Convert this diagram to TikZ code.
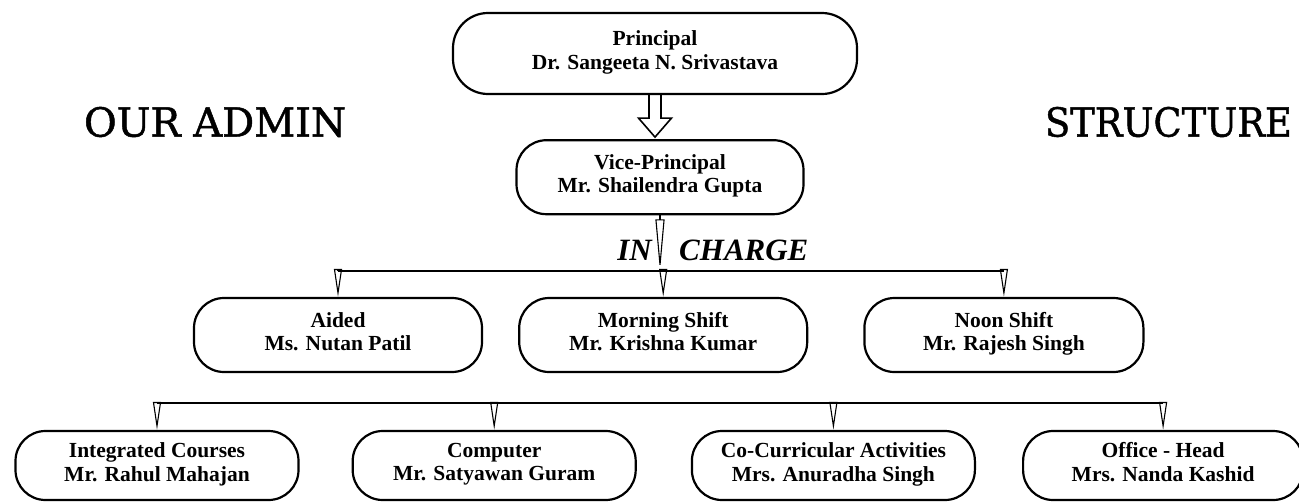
\documentclass[tikz,border=0pt]{standalone}
\usepackage{fontspec}
\setmainfont{Liberation Serif}
\newfontfamily\slabfont[FakeBold=1.2]{DejaVu Serif}
\usepackage{tikz}
\usetikzlibrary{arrows.meta,positioning,calc}
\tikzset{
    %Define style for boxes
    post/.style={
           rectangle,
           rounded corners=30pt,
           draw=black, line width=2.2pt,
           minimum width=288pt,
           minimum height=74pt,
           inner sep=0pt,
           align=center,
           execute at begin node={\rule{0pt}{23pt}},
           execute at end node=\strut,
           font=\fontsize{21.5}{23.5}\selectfont\bfseries},
    low/.style={
           post,
           minimum width=283pt,
           minimum height=69pt},
    %Define style for big titles
    hdr/.style={
           inner sep=0pt,
           font=\slabfont\fontsize{40}{40}\selectfont},
    lbl/.style={
           inner sep=0pt,
           font=\fontsize{31}{31}\selectfont\bfseries\itshape},
    % Define arrow styles
    bus/.style={
           line width=2.2pt},
    drop/.style={
           -{Triangle[open,length=28pt,width=8pt]},
           line width=1.1pt},
    feed/.style={
           -{Triangle[open,length=52pt,width=9pt]},
           line width=1.1pt}
}

\begin{document}
\begin{tikzpicture}[x=1pt,y=1pt,blk/.style={line width=1.6pt,line join=miter}]
\useasboundingbox (0,0) rectangle (1299,-501);
% top of the chart
\node[post, minimum width=404pt, minimum height=81pt, rounded corners=35pt] (prin) at (655,-53.5) {Principal\\Dr. Sangeeta N. Srivastava};
\node[post, below=44pt of prin, minimum width=287pt, xshift=5pt] (vice) {Vice-Principal\\Mr. Shailendra Gupta};
\node[hdr] (our) at (215,-122) {OUR ADMIN};
\node[hdr, anchor=east] (strc) at (1292,-122) {\scalebox{0.92}[1]{STRUCTURE}};
% in charge row
\node[post] (aided) at (338,-335) {Aided\\Ms. Nutan Patil};
\node[post, right=35pt of aided] (morn) {Morning Shift\\Mr. Krishna Kumar};
\node[post, right=55pt of morn, minimum width=279pt] (noon) {Noon Shift\\Mr. Rajesh Singh};
% bottom row
\node[low] (integ) at (157,-465.5) {Integrated Courses\\Mr. Rahul Mahajan};
\node[low, right=52pt of integ] (comp) {Computer\\Mr. Satyawan Guram};
\node[low, right=54pt of comp] (cca) {Co-Curricular Activities\\Mrs. Anuradha Singh};
\node[low, right=46pt of cca, minimum width=280pt] (office) {Office - Head\\Mrs. Nanda Kashid};
% hollow arrow
\draw[blk] ($(prin.south)+(-6pt,0)$) -- ++(0,-23) -- ++(-10.5,0) -- ++(16.5,-19) -- ++(16.5,19) -- ++(-10.5,0) -- ++(0,23);
% lines
\coordinate (b1) at ($(vice.south)+(0,-56pt)$);
\coordinate (b2) at ($(morn.south)+(0,-30pt)$);
\node[lbl, anchor=east] (in) at ($(b1)+(-8pt,21pt)$) {IN};
\node[lbl, anchor=west] (chg) at ($(b1)+(19pt,21pt)$) {CHARGE};
\draw[bus] (aided |- b1) -- (noon |- b1);
\draw[feed] (vice.south) -- (b1);
\foreach \n in {aided,morn,noon} \draw[drop] (\n |- b1) -- (\n.north);
\draw[bus] (integ |- b2) -- (office |- b2);
\foreach \n in {integ,comp,cca,office} \draw[drop] (\n |- b2) -- (\n.north);
\end{tikzpicture}
\end{document}
